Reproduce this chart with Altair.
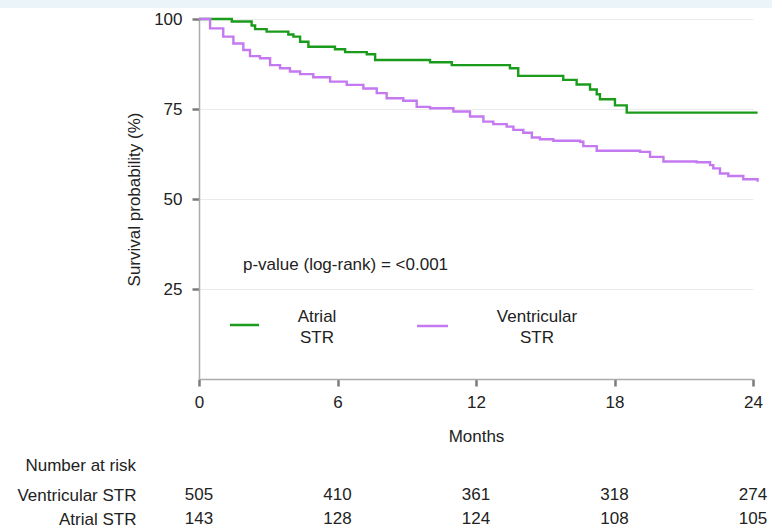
import altair as alt
import pandas as pd

# ---------------- data ----------------
# Kaplan-Meier steps: month at which the step starts, survival (%) after it
atrial_t = [0, 1.42, 2.28, 2.43, 2.93, 3.87, 4.09, 4.38, 4.74, 5.89, 6.33, 7.27,
            7.63, 10.01, 10.95, 13.47, 13.83, 15.78, 16.36, 16.94, 17.23, 17.37,
            18.02, 18.53, 24.2]
atrial_s = [100, 99.3, 98.2, 97.2, 96.5, 95.7, 95.1, 93.7, 92.3, 91.6, 90.8, 90.2,
            88.6, 88.0, 87.2, 86.3, 84.2, 83.1, 81.8, 80.4, 79.1, 77.7,
            76.0, 74.0, 74.0]
vent_t = [0, 0.48, 1.05, 1.49, 1.92, 2.21, 2.64, 3.08, 3.51, 3.94, 4.38, 4.95,
          5.68, 6.40, 7.12, 7.70, 8.13, 8.85, 9.43, 10.01, 11.02, 11.74, 12.32,
          12.75, 13.33, 13.62, 14.05, 14.42, 14.77, 15.35, 16.51, 16.65, 17.23,
          19.11, 19.54, 20.12, 21.56, 22.14, 22.28, 22.57, 22.93, 23.58, 24.2]
vent_s = [100, 97.4, 95.1, 93.2, 91.4, 89.7, 89.1, 87.2, 86.3, 85.4, 84.7, 83.8,
          82.6, 81.7, 80.7, 79.4, 78.0, 77.3, 75.6, 75.2, 74.3, 72.9, 71.5,
          70.8, 70.1, 69.2, 68.4, 67.1, 66.6, 66.2, 65.9, 64.7, 63.4,
          63.1, 61.7, 60.4, 60.2, 59.4, 58.5, 57.1, 56.4, 55.5, 54.8]

groups = ["Atrial STR", "Ventricular STR"]
legend_text = ["Atrial\nSTR", "Ventricular\nSTR"]
month_ticks = [0, 6, 12, 18, 24]
y_ticks = [25, 50, 75, 100]
risk_rows = ["Ventricular STR", "Atrial STR"]
risk_vent = [505, 410, 361, 318, 274]
risk_atr = [143, 128, 124, 108, 105]
pvalue_text = "p-value (log-rank) = <0.001"

GREEN = "#1b9b1b"
PURPLE = "#c479f1"
TEXT = "#222222"
FONT = "Liberation Sans"
FS = 17

curve_df = pd.concat([
    pd.DataFrame({"t": atrial_t, "s": atrial_s, "g": groups[0]}),
    pd.DataFrame({"t": vent_t, "s": vent_s, "g": groups[1]}),
], ignore_index=True)

risk_df = pd.DataFrame({
    "t": month_ticks * 2,
    "row": [risk_rows[0]] * 5 + [risk_rows[1]] * 5,
    "n": risk_vent + risk_atr,
})
one = pd.DataFrame({"k": [0]})

W, H = 554, 360

xenc = alt.X("t:Q", scale=alt.Scale(domain=[0, 24], nice=False),
             axis=alt.Axis(values=month_ticks, title="Months", grid=False,
                           labelFlush=False,
                           domainColor="#ababab", domainWidth=1.5,
                           tickColor="#7a7a7a", tickWidth=2.5, tickSize=7,
                           labelFontSize=FS, labelColor=TEXT, labelPadding=8,
                           titleFontSize=FS, titleFontWeight="normal",
                           titleColor=TEXT, titlePadding=18))
yenc = alt.Y("s:Q", scale=alt.Scale(domain=[0, 100], nice=False),
             axis=alt.Axis(values=y_ticks, title="Survival probability (%)",
                           grid=True, gridColor="#ebebeb", gridWidth=1.2,
                           domainColor="#ababab", domainWidth=1.5,
                           tickColor="#7a7a7a", tickWidth=2.5, tickSize=7,
                           labelFontSize=FS, labelColor=TEXT, labelPadding=10,
                           titleFontSize=FS, titleFontWeight="normal",
                           titleColor=TEXT, titlePadding=10))

strip = alt.Chart(one).mark_rect(color="#eaf4f9").encode(
    x=alt.value(-199), x2=alt.value(573), y=alt.value(-19), y2=alt.value(-11))

curves = alt.Chart(curve_df).mark_line(interpolate="step-after", strokeWidth=2.4).encode(
    x=xenc, y=yenc,
    color=alt.Color("g:N", scale=alt.Scale(domain=groups, range=[GREEN, PURPLE]),
                    legend=None))

pval = alt.Chart(one).mark_text(text=pvalue_text, align="left", baseline="middle",
                                fontSize=FS, color=TEXT, font=FONT).encode(
    x=alt.value(44), y=alt.value(246))

leg_g_line = alt.Chart(one).mark_rule(color=GREEN, strokeWidth=2.5).encode(
    x=alt.value(31), x2=alt.value(60), y=alt.value(306))
leg_p_line = alt.Chart(one).mark_rule(color=PURPLE, strokeWidth=2.5).encode(
    x=alt.value(218), x2=alt.value(249), y=alt.value(307))
leg_g_text = alt.Chart(one).mark_text(text=legend_text[0], lineBreak="\n", lineHeight=21,
                                      align="center", baseline="middle", fontSize=FS,
                                      color=TEXT, font=FONT).encode(
    x=alt.value(118), y=alt.value(298))
leg_p_text = alt.Chart(one).mark_text(text=legend_text[1], lineBreak="\n", lineHeight=21,
                                      align="center", baseline="middle", fontSize=FS,
                                      color=TEXT, font=FONT).encode(
    x=alt.value(338), y=alt.value(298))

main = alt.layer(strip, curves, pval, leg_g_line, leg_p_line, leg_g_text,
                 leg_p_text).properties(width=W, height=H)

table = alt.Chart(
    risk_df,
    title=alt.Title("Number at risk", anchor="start", frame="group", align="right",
                    dx=-63, offset=11, fontSize=FS, fontWeight="normal",
                    color=TEXT, font=FONT),
).mark_text(fontSize=FS, color=TEXT, font=FONT).encode(
    x=alt.X("t:Q", scale=alt.Scale(domain=[0, 24], nice=False), axis=None),
    y=alt.Y("row:N", scale=alt.Scale(domain=risk_rows, padding=0),
            axis=alt.Axis(title=None, domain=False, ticks=False, tickSize=0,
                          grid=False, labelPadding=63, labelFontSize=FS,
                          labelColor=TEXT)),
    text="n:Q",
).properties(width=W, height=24)

chart = alt.vconcat(main, table, spacing=13).properties(
    padding={"left": 0, "top": 0, "right": 0, "bottom": 0},
    background="white",
).configure(font=FONT).configure_view(stroke=None)

chart.save("out.html", embed_options={"renderer": "svg", "actions": False})
